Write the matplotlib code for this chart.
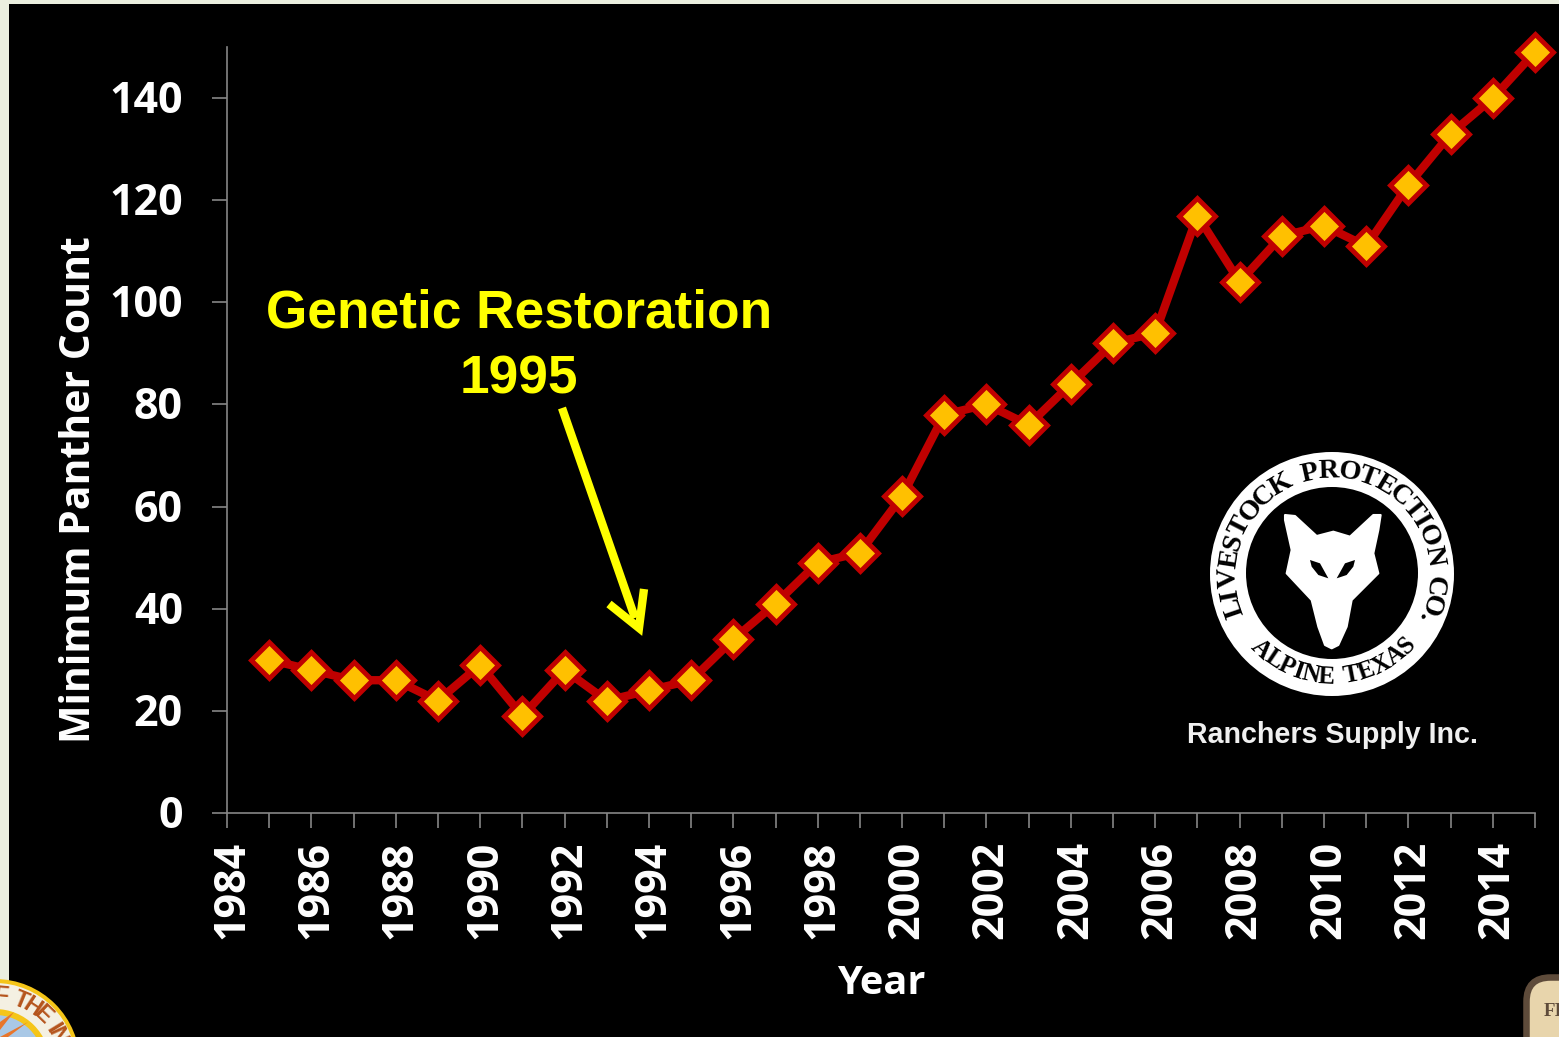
import numpy as np
import matplotlib
matplotlib.use("Agg")
import matplotlib.pyplot as plt
from matplotlib.patches import Circle, Polygon, FancyBboxPatch, Rectangle
from matplotlib.transforms import ScaledTranslation
from matplotlib.textpath import TextPath
from matplotlib.font_manager import FontProperties

W, H = 1559, 1037
years = list(range(1985, 2016))
counts = [30, 28, 26, 26, 22, 29, 19, 28, 22, 24, 26, 34, 41, 49, 51, 62,
          78, 80, 76, 84, 92, 94, 117, 104, 113, 115, 111, 123, 133, 140, 149]
x_ticks = list(range(1984, 2016))
x_labels = [str(y) if y % 2 == 0 else "" for y in x_ticks]
y_ticks = [0, 20, 40, 60, 80, 100, 120, 140]

GRAY = "#868686"
RED = "#C00000"
GOLD = "#FFC000"
YEL = "#FFFF00"
SANS = "Open Sans"

fig = plt.figure(figsize=(W / 100, H / 100), dpi=100, facecolor="#EBEFDF")

bg = fig.add_axes([0, 0, 1, 1], zorder=0)
bg.set_xlim(0, W); bg.set_ylim(H, 0); bg.axis("off")
bg.add_patch(Rectangle((9, 4), W, H, fc="black", ec="none"))

ax = fig.add_axes([227 / W, 1 - 813 / H, (1535 - 227) / W, (813 - 47) / H],
                  zorder=2, facecolor="none")
ax.plot(years, counts, color=RED, lw=6, marker="D", ms=18.2, mfc=GOLD,
        mec=RED, mew=3.5, clip_on=False, solid_joinstyle="miter", zorder=5)
ax.set_xlim(1984, 2015)
ax.set_ylim(0, 150)
ax.set_xticks(x_ticks)
ax.set_xticklabels(x_labels, rotation=90, fontsize=31, fontweight="bold",
                   family=SANS, color="white")
ax.set_yticks(y_ticks)
ax.set_yticklabels([str(v) for v in y_ticks], fontsize=31, fontweight="bold",
                   family=SANS, color="white")
ax.tick_params(axis="x", length=10.8, width=1.2, color=GRAY, pad=9)
ax.tick_params(axis="y", length=10.8, width=1.2, color=GRAY, pad=21)
for lab in ax.get_xticklabels():
    lab.set_transform(lab.get_transform() + ScaledTranslation(4.5 / 100, 0, fig.dpi_scale_trans))
for lab in ax.get_yticklabels():
    lab.set_transform(lab.get_transform() + ScaledTranslation(0, 1.5 / 100, fig.dpi_scale_trans))
for s in ("top", "right"):
    ax.spines[s].set_visible(False)
for s in ("left", "bottom"):
    ax.spines[s].set_color(GRAY)
    ax.spines[s].set_linewidth(1.2)

over = fig.add_axes([0, 0, 1, 1], zorder=3, facecolor="none")
over.set_xlim(0, W); over.set_ylim(H, 0); over.axis("off")

over.text(881, 984, "Year", ha="center", va="center", color="white",
          fontsize=28.6, fontweight="bold", family=SANS)
over.text(80, 490, "Minimum Panther Count", ha="center", va="center",
          rotation=90, color="white", fontsize=29.4, fontweight="bold", family=SANS)

over.text(519, 314, "Genetic Restoration", ha="center", va="center", color=YEL,
          fontsize=38.3, fontweight="bold", family="Liberation Sans")
over.text(519, 379, "1995", ha="center", va="center", color=YEL,
          fontsize=38.3, fontweight="bold", family="Liberation Sans")
over.plot([562, 635], [408, 618], color=YEL, lw=6, solid_capstyle="butt")
over.plot([609, 639, 644], [604, 628, 589], color=YEL, lw=6,
          solid_joinstyle="miter", solid_capstyle="butt")


def arc_text(a, s, cx, cy, r, start, end, color, size, family, inward=False):
    """Place letters along a circle by their widths; degrees clockwise from north."""
    fp = FontProperties(family=family, weight="bold")
    widths = []
    for ch in s:
        widths.append(size * 0.45 if ch == " " else
                      TextPath((0, 0), ch, size=size, prop=fp).get_extents().width + size * 0.1)
    widths = np.array(widths)
    edges = np.concatenate([[0], np.cumsum(widths)])
    mids = (edges[:-1] + edges[1:]) / 2
    fr = (mids - mids[0]) / (mids[-1] - mids[0])
    for ch, f in zip(s, fr):
        ang = start + (end - start) * f
        t = np.deg2rad(ang)
        x = cx + r * np.sin(t)
        y = cy - r * np.cos(t)
        rot = -ang + (180 if inward else 0)
        a.text(x, y, ch, ha="center", va="center", rotation=rot,
               rotation_mode="anchor", color=color, fontsize=size,
               family=family, fontweight="bold", clip_on=True)


cx, cy = 1332, 574
over.add_patch(Circle((cx, cy), 122, fc="white", ec="none"))
over.add_patch(Circle((cx, cy - 1), 86, fc="black", ec="none"))
arc_text(over, "LIVESTOCK PROTECTION CO.", cx, cy, 103, -109, 115, "black",
         20.5, "Liberation Serif")
arc_text(over, "ALPINE TEXAS", cx, cy - 1, 104, 223, 134, "black",
         18, "Liberation Serif", inward=True)

ox, oy = 1170, 430
fox = [(345, 255), (375, 258), (440, 318), (490, 305), (540, 320), (610, 255),
       (632, 255), (625, 300), (610, 370), (625, 430), (545, 510), (530, 590),
       (505, 645), (485, 655), (465, 645), (445, 590), (425, 510), (350, 430),
       (365, 360), (345, 270)]
eye_l = [(420, 390), (450, 400), (475, 445), (445, 435), (425, 410)]
eye_r = [(555, 390), (525, 400), (500, 445), (530, 435), (550, 410)]
to_px = lambda pts: [(ox + p / 3, oy + q / 3) for p, q in pts]
over.add_patch(Polygon(to_px(fox), fc="white", ec="white", lw=1.5, joinstyle="round"))
over.add_patch(Polygon(to_px(eye_l), fc="black", ec="none"))
over.add_patch(Polygon(to_px(eye_r), fc="black", ec="none"))
over.text(cx + 1, 735, "Ranchers Supply Inc.", ha="center", va="center", color="#F0F0F0",
          fontsize=20.6, fontweight="bold", family="Liberation Sans")

sx, sy = -5, 1064
over.add_patch(Circle((sx, sy), 85, fc="#F5C518", ec="none"))
over.add_patch(Circle((sx, sy), 81, fc="#F4F0E2", ec="none"))
over.add_patch(Circle((sx, sy), 55, fc="#F5C518", ec="none"))
over.add_patch(Circle((sx, sy), 49, fc="#A9C8E6", ec="none"))
over.add_patch(Polygon([(0, 1022), (14, 1012), (0, 1030)], fc="#E8762B", ec="none"))
over.add_patch(Polygon([(0, 1037), (28, 1022), (8, 1037)], fc="#E8762B", ec="none"))
arc_text(over, "F THE IN", sx, sy, 68, 5, 66, "#B5541C", 17, "Liberation Sans")

over.add_patch(FancyBboxPatch((1526.5, 977.5), 80, 120,
                              boxstyle="round,pad=0,rounding_size=24",
                              fc="#E8D5AC", ec="#5E4B3A", lw=4.7))
over.text(1544, 1011, "FI", ha="left", va="center", color="#5E4B3A",
          fontsize=13.5, fontweight="bold", family="Liberation Serif", clip_on=True)

fig.savefig("out.png", dpi=100, facecolor=fig.get_facecolor())
